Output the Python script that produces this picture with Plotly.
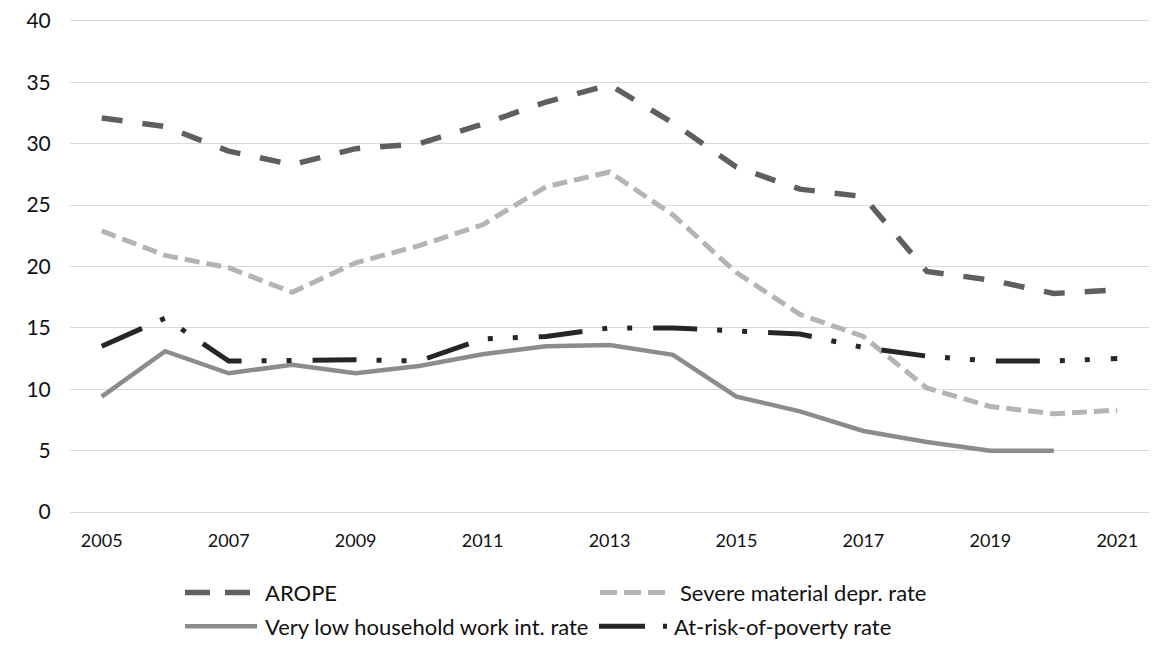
import plotly.graph_objects as go

# Survey years on the category axis
years = list(range(2005, 2022))
tick_years = list(range(2005, 2022, 2))
y_ticks = [0, 5, 10, 15, 20, 25, 30, 35, 40]

# Indicator series (%)
arope = [32.1, 31.4, 29.4, 28.3, 29.6, 30.0, 31.6, 33.4, 34.8, 31.7,
         28.1, 26.3, 25.7, 19.6, 18.9, 17.8, 18.1]
severe_md = [22.9, 20.9, 19.9, 17.9, 20.3, 21.7, 23.4, 26.5, 27.7, 24.2,
             19.5, 16.1, 14.3, 10.1, 8.6, 8.0, 8.3]
low_work = [9.4, 13.1, 11.3, 12.0, 11.3, 11.9, 12.85, 13.5, 13.6, 12.8,
            9.4, 8.2, 6.6, 5.7, 5.0, 5.0, None]
at_risk = [13.5, 15.8, 12.3, 12.4, 12.4, 12.3, 14.1, 14.3, 15.0, 15.0,
           14.8, 14.5, 13.4, 12.7, 12.3, 12.3, 12.5]

names = ["AROPE", "Severe material depr. rate",
         "Very low household work int. rate", "At-risk-of-poverty rate"]

C_AROPE = "#5f5f5f"
C_SEVERE = "#b4b4b4"
C_LOW = "#8c8c8c"
C_RISK = "#262626"
C_GRID = "#d9d9d9"

FONT = "Lato"
TXT = "#111111"

W, H = 1156, 648
ML, MR, MT, MB = 70, 7, 18, 136

fig = go.Figure()
fig.add_trace(go.Scatter(x=years, y=arope, name=names[0], mode="lines",
                         line=dict(color=C_AROPE, width=5.5, dash="21px,20px")))
fig.add_trace(go.Scatter(x=years, y=severe_md, name=names[1], mode="lines",
                         line=dict(color=C_SEVERE, width=5, dash="15px,7px")))
fig.add_trace(go.Scatter(x=years, y=low_work, name=names[2], mode="lines",
                         line=dict(color=C_LOW, width=4.5)))
fig.add_trace(go.Scatter(x=years, y=at_risk, name=names[3], mode="lines",
                         line=dict(color=C_RISK, width=5,
                                   dash="44px,20px,5px,20px,5px,21px")))

# Legend drawn below the plot area in pixel units converted to paper units
plot_w = W - ML - MR
plot_h = H - MT - MB


def px(xp):
    return (xp - ML) / plot_w


def py(yp):
    return (H - MB - yp) / plot_h


legend_items = [
    # (x0, x1, y, colour, width, dash, text x, label)
    (185, 250, 593, C_AROPE, 5.5, "25px,15px", 263, names[0]),
    (600, 665, 593, C_SEVERE, 5, "17px,7px", 678, names[1]),
    (185, 257, 627, C_LOW, 4.5, "solid", 263, names[2]),
    (599, 668, 627, C_RISK, 5, "46px,18px,4px,100px", 672, names[3]),
]
shapes = []
annotations = []
for x0, x1, yy, col, wd, dash, tx, label in legend_items:
    shapes.append(dict(type="line", xref="paper", yref="paper",
                       x0=px(x0), x1=px(x1), y0=py(yy), y1=py(yy),
                       line=dict(color=col, width=wd, dash=dash)))
    annotations.append(dict(xref="paper", yref="paper", x=px(tx), y=py(yy),
                            text=label, showarrow=False, xanchor="left",
                            yanchor="middle",
                            font=dict(family=FONT, size=22, color=TXT)))

fig.update_layout(
    width=W, height=H,
    margin=dict(l=ML, r=MR, t=MT, b=MB),
    paper_bgcolor="white", plot_bgcolor="white",
    showlegend=False,
    shapes=shapes, annotations=annotations,
    xaxis=dict(range=[2004.5, 2021.5], tickvals=tick_years,
               ticktext=[str(y) for y in tick_years],
               showgrid=False, zeroline=False,
               showline=True, mirror=True, linecolor=C_GRID, linewidth=1.3,
               ticks="outside", ticklen=12, tickcolor="rgba(0,0,0,0)",
               tickfont=dict(family=FONT, size=18, color=TXT)),
    yaxis=dict(range=[0, 40], tickvals=y_ticks,
               showgrid=True, gridcolor=C_GRID, gridwidth=1.3,
               zeroline=False, showline=False,
               ticks="outside", ticklen=14, tickcolor="rgba(0,0,0,0)",
               tickfont=dict(family=FONT, size=21, color=TXT)),
)

fig.write_html("out.html")
